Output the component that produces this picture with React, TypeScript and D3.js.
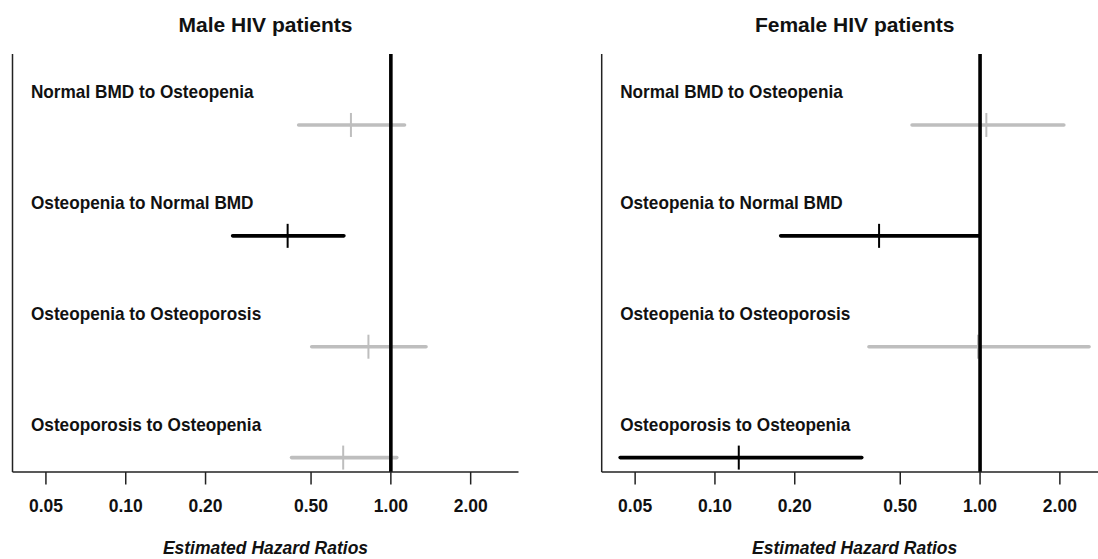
import * as d3 from "d3";
import React from "react";

// rows, top to bottom
const transitions = [
  "Normal BMD to Osteopenia",
  "Osteopenia to Normal BMD",
  "Osteopenia to Osteoporosis",
  "Osteoporosis to Osteopenia",
];
const tickValues = [0.05, 0.1, 0.2, 0.5, 1, 2];
const tickLabels = ["0.05", "0.10", "0.20", "0.50", "1.00", "2.00"];

const maleHR = [0.707, 0.408, 0.823, 0.661];
const maleLower = [0.449, 0.253, 0.503, 0.422];
const maleUpper = [1.126, 0.665, 1.357, 1.053];
const maleSignificant = [false, true, false, false];

const femaleHR = [1.056, 0.416, 0.982, 0.123];
const femaleLower = [0.554, 0.177, 0.381, 0.0439];
const femaleUpper = [2.07, 0.988, 2.577, 0.358];
const femaleSignificant = [false, true, false, true];

const labelAt = 0.0439;

const fontFamily = "'Liberation Sans', Arial, sans-serif";

function ForestPanel(props) {
  let { left, title, hr, lower, upper, significant } = props;
  let w = 506;
  let top = 54;
  let bottom = 472;

  let x = d3.scaleLog().domain([0.0374, 3.03]).range([left, left + w]);
  let y = d3.scaleLinear().domain([-0.64, 3.13]).range([top, bottom]);

  let rows = transitions.map((name, i) => {
    let col = significant[i] ? "#000" : "#bebebe";
    return (
      <g key={i}>
        <text transform={"translate(" + x(labelAt) + "," + (y(i) - 27) + ") scale(1,1.09)"} fontSize={17.2} fontWeight="bold" fill="#111">{name}</text>
        <line x1={x(lower[i])} x2={x(upper[i])} y1={y(i)} y2={y(i)} stroke={col} strokeWidth={3.6} strokeLinecap="round" />
        <line x1={x(hr[i])} x2={x(hr[i])} y1={y(i) - 12} y2={y(i) + 12} stroke={col} strokeWidth={2} />
      </g>
    );
  });

  let ticks = tickValues.map((t, i) => (
    <g key={t}>
      <line x1={x(t)} x2={x(t)} y1={bottom} y2={bottom + 12.5} stroke="#222" strokeWidth={1.5} />
      <text transform={"translate(" + x(t) + ",511.5) scale(1,1.07)"} textAnchor="middle" fontSize={17.5} fontWeight="bold" fill="#111">{tickLabels[i]}</text>
    </g>
  ));

  return (
    <g fontFamily={fontFamily}>
      <text x={left + w / 2} y={32} textAnchor="middle" fontSize={21} fontWeight="bold" fill="#111">{title}</text>
      {rows}
      <line x1={x(1)} x2={x(1)} y1={top} y2={bottom} stroke="#000" strokeWidth={3.6} />
      <line x1={left} x2={left} y1={top} y2={bottom} stroke="#222" strokeWidth={1.5} />
      <line x1={left} x2={left + w} y1={bottom} y2={bottom} stroke="#222" strokeWidth={1.5} />
      {ticks}
      <text x={left + w / 2} y={554} textAnchor="middle" fontSize={17.5} fontWeight="bold" fontStyle="italic" fill="#111">Estimated Hazard Ratios</text>
    </g>
  );
}

export default function App() {
  return (
    <div style={{ position: "absolute", left: 0, top: 0 }}>
      <svg width={1098} height={559} style={{ display: "block", background: "#fff" }}>
        <ForestPanel left={12.5} title="Male HIV patients" hr={maleHR} lower={maleLower} upper={maleUpper} significant={maleSignificant} />
        <ForestPanel left={601.7} title="Female HIV patients" hr={femaleHR} lower={femaleLower} upper={femaleUpper} significant={femaleSignificant} />
      </svg>
    </div>
  );
}
